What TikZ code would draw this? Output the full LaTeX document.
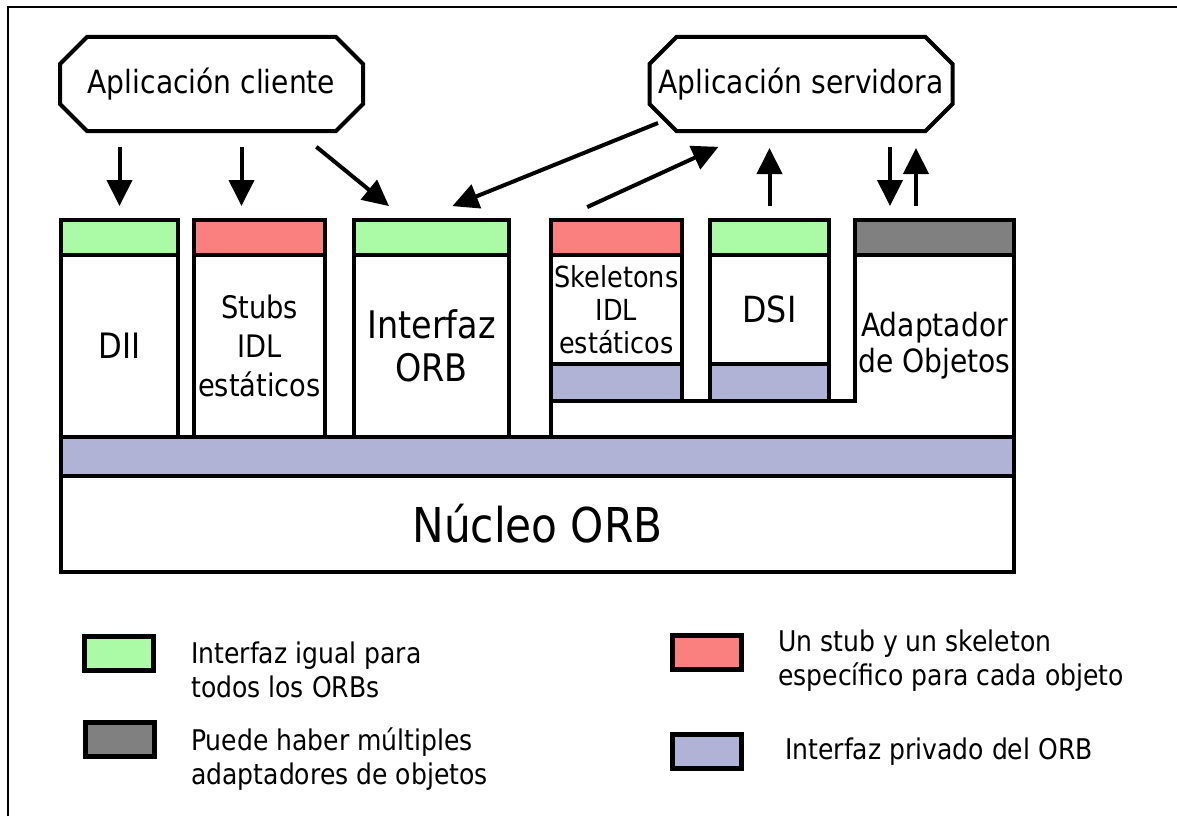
\documentclass[tikz,border=0pt]{standalone}
\usepackage{fontspec}
\setmainfont{DejaVu Sans}[FakeStretch=0.88]
\usetikzlibrary{positioning,arrows.meta}

\definecolor{igual}{RGB}{170,250,166}
\definecolor{especifico}{RGB}{250,128,128}
\definecolor{adaptador}{RGB}{128,128,128}
\definecolor{privado}{RGB}{176,178,214}

\begin{document}
\begin{tikzpicture}[x=1pt,y=-1pt,
        app/.style={minimum width=303pt, minimum height=94pt, inner sep=0pt, outer sep=0pt, font=\fontsize{32}{38}\selectfont},
        bar/.style={draw, line width=4pt, anchor=north west, minimum height=35pt, inner sep=0pt, outer sep=0pt},
        colbody/.style={draw, line width=4pt, minimum height=182pt, inner sep=0pt, outer sep=0pt, align=center},
        privbar/.style={draw, line width=4pt, fill=privado, minimum height=37pt, inner sep=0pt, outer sep=0pt},
        legbox/.style={draw, line width=5pt, minimum width=69pt, minimum height=34pt, inner sep=0pt},
        legtext/.style={anchor=north west, align=left, inner sep=0pt, font=\fontsize{28.5}{34}\selectfont},
        flow/.style={line width=4pt, -{Triangle[length=26pt,width=25pt]}}
    ]
    \path[use as bounding box] (0,0) rectangle (1177,816);
    \draw[line width=2pt] (8,816) -- (8,7) -- (1177,7);

    \node[app] (client) at (211.5,84) {Aplicación cliente};
    \node[app] (server) at (801,84) {Aplicación servidora};
    % octogonos
    \foreach \a in {client,server}
        \draw[line width=4pt,line join=miter]
            ([xshift=27pt]\a.north west) -- ([xshift=-27pt]\a.north east) -- ([yshift=-27pt]\a.north east)
            -- ([yshift=27pt]\a.south east) -- ([xshift=-27pt]\a.south east) -- ([xshift=27pt]\a.south west)
            -- ([yshift=27pt]\a.south west) -- ([yshift=-27pt]\a.north west) -- cycle;

    % columnas
    \node[bar,fill=igual,minimum width=117pt] (diibar) at (61,220) {};
    \node[colbody,minimum width=117pt,below=0pt of diibar,font=\fontsize{35}{40}\selectfont] (dii) {DII};
    \node[bar,fill=especifico,minimum width=131pt] (stubbar) at (194,220) {};
    \node[colbody,minimum width=131pt,below=0pt of stubbar,font=\fontsize{31}{39}\selectfont] (stub) {Stubs\\IDL\\estáticos};
    \node[bar,fill=igual,minimum width=155pt] (ifacebar) at (354,220) {};
    \node[colbody,minimum width=155pt,below=0pt of ifacebar,font=\fontsize{38}{43}\selectfont] (iface) {Interfaz\\ORB};

    \node[bar,fill=especifico,minimum width=131pt] (skelbar) at (551,220) {};
    \node[colbody,minimum width=131pt,minimum height=109pt,below=0pt of skelbar,font=\fontsize{29}{33}\selectfont] (skel) {Skeletons\\IDL\\estáticos};
    \node[privbar,minimum width=131pt,below=0pt of skel] (skelprv) {};
    \node[bar,fill=igual,minimum width=119pt] (dsibar) at (710,220) {};
    \node[colbody,minimum width=119pt,minimum height=109pt,below=0pt of dsibar,font=\fontsize{36}{40}\selectfont] (dsi) {DSI};
    \node[privbar,minimum width=119pt,below=0pt of dsi] (dsiprv) {};
    \node[bar,fill=adaptador,minimum width=159pt] (adaptbar) at (855,220) {};
    \node[colbody,draw=none,minimum width=159pt,below=0pt of adaptbar,font=\fontsize{32}{36}\selectfont] (adapt) {Adaptador\\de Objetos};

    \draw[line width=4pt] (adaptbar.south west) -- (adaptbar.south west |- dsiprv.south) -- (dsiprv.south east);
    \draw[line width=4pt] (skelprv.south east) -- (dsiprv.south west);
    \draw[line width=4pt] (adaptbar.south east) -- (adapt.south east);

    \node[privbar,minimum width=953pt,minimum height=39pt,below=0pt of dii.south west,anchor=north west] (band) {};
    \draw[line width=4pt] (skelprv.south west) -- (skelprv.south west |- band.north);
    \node[colbody,minimum width=953pt,minimum height=96pt,below=0pt of band,font=\fontsize{48}{52}\selectfont] (nucleo) {Núcleo ORB};

    % flechas
    \draw[flow,shorten <=16pt,shorten >=14pt] (client.south -| diibar.north) -- (diibar.north);
    \draw[flow,shorten <=16pt,shorten >=14pt] ([xshift=-18pt]client.south -| stubbar.north) -- ([xshift=-18pt]stubbar.north);
    \draw[flow,shorten <=25pt,shorten >=22pt] ([xshift=85.5pt]client.south) -- ([xshift=-25.5pt]ifacebar.north);
    \draw[flow,shorten >=37pt] ([xshift=-143pt,yshift=8pt]server.south) -- ([xshift=-13.5pt]ifacebar.north);
    \draw[flow,shorten <=31pt,shorten >=38pt] ([xshift=-57.5pt]skelbar.north) -- ([xshift=-48pt]server.south);
    \draw[flow,shorten <=14pt,shorten >=17pt] (dsibar.north) -- (dsibar.north |- server.south);
    \draw[flow,shorten <=16pt,shorten >=14pt] ([xshift=-44.5pt]server.south -| adaptbar.north) -- ([xshift=-44.5pt]adaptbar.north);
    \draw[flow,shorten <=14pt,shorten >=17pt] ([xshift=-18.5pt]adaptbar.north) -- ([xshift=-18.5pt]server.south -| adaptbar.north);

    % leyenda
    \node[legbox,fill=igual] (legigual) at (119,653) {};
    \node[legtext] (txtigual) at (191,642) {Interfaz igual para\\todos los ORBs};
    \node[legbox,fill=adaptador] (legadapt) at (119.5,739) {};
    \node[legtext] (txtadapt) at (191,727) {Puede haber múltiples\\adaptadores de objetos};
    \node[legbox,fill=especifico] (legesp) at (706.5,652.5) {};
    \node[legtext] (txtesp) at (778,630) {Un stub y un skeleton\\específico para cada objeto};
    \node[legbox,fill=privado] (legprv) at (706.5,751.5) {};
    \node[legtext] (txtprv) at (785,738) {Interfaz privado del ORB};
\end{tikzpicture}
\end{document}
